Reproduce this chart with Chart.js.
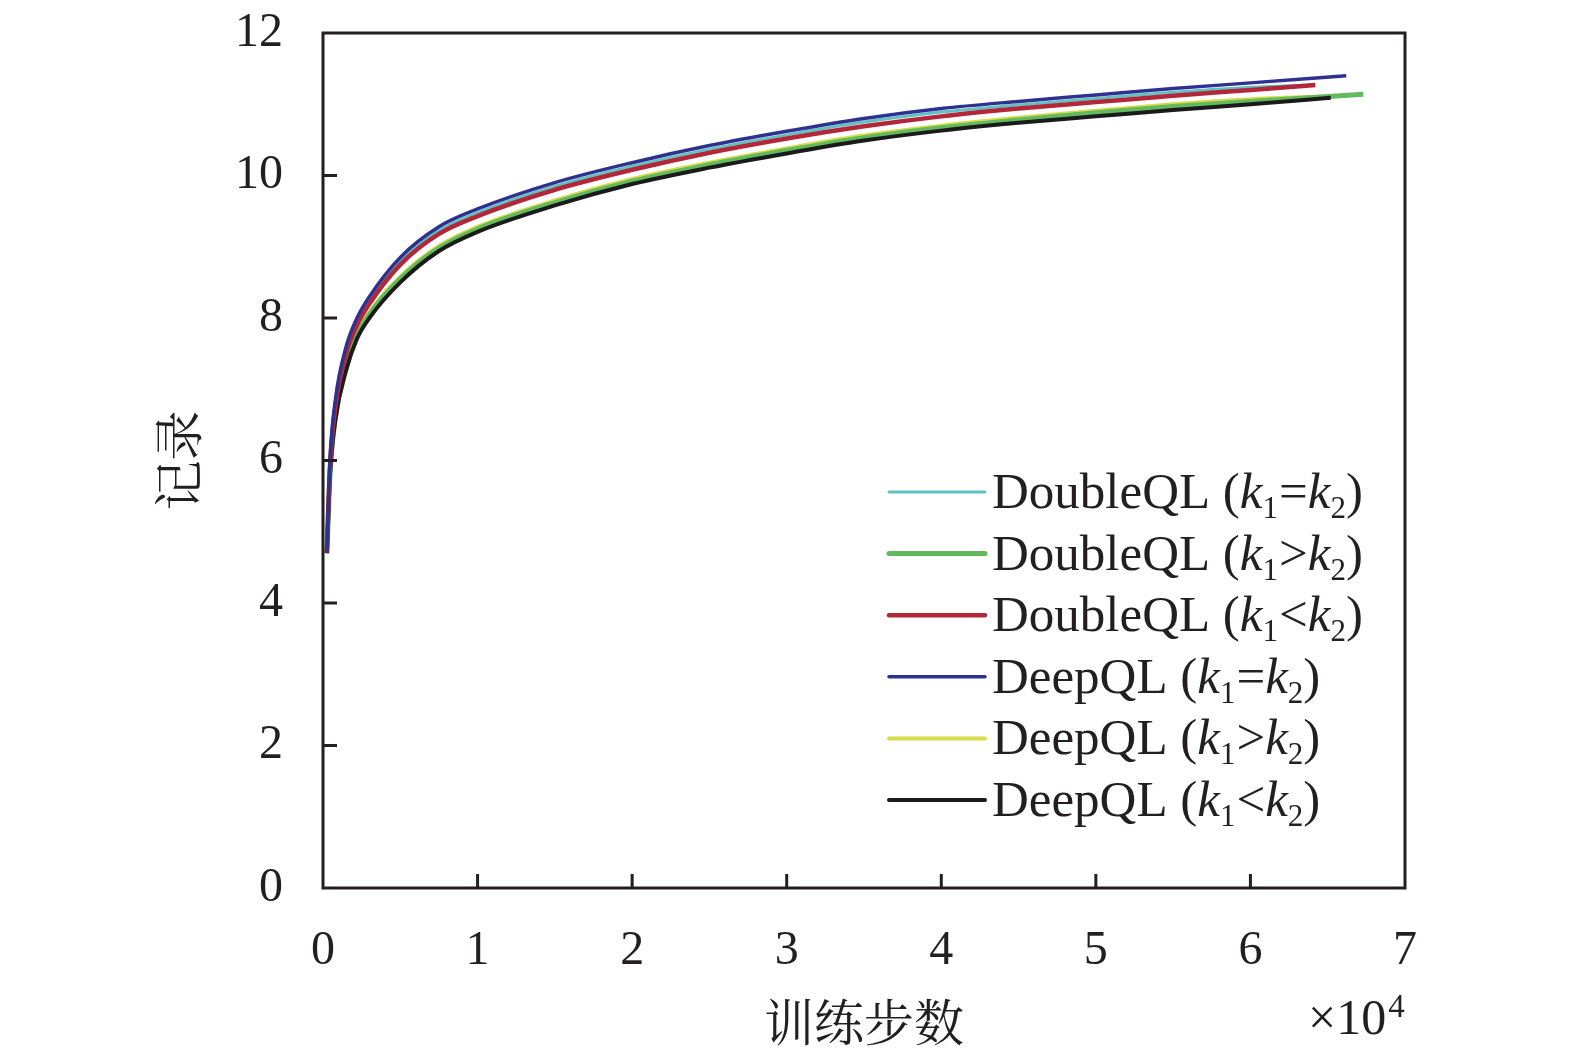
<!DOCTYPE html>
<html>
<head>
<meta charset="utf-8">
<title>训练步数 - 记录</title>
<script src="https://cdn.jsdelivr.net/npm/chart.js@4.4.1/dist/chart.umd.min.js"></script>
<style>
  html, body { margin: 0; padding: 0; background: #fff; }
  #wrap { width: 1575px; height: 1057px; }
</style>
</head>
<body>
<div id="wrap"><canvas id="chart" width="1575" height="1057"></canvas></div>
<script>
// training steps, in units of 10^4 (shared for all series), last point is per series
const steps = [0.025, 0.045, 0.08, 0.15, 0.22, 0.3, 0.5, 0.75, 1, 1.5, 2, 2.5, 3, 3.5, 4, 4.5, 5, 5.5, 6];
const endSteps = [6.38, 6.73, 6.42, 6.62, 6.48, 6.52];

const seriesNames = ['DoubleQL', 'DoubleQL', 'DoubleQL', 'DeepQL', 'DeepQL', 'DeepQL'];
const relations = ['=', '>', '<', '=', '>', '<'];

// record values (last value = end of the curve)
const doubleEq   = [4.7, 5.95, 6.8, 7.55, 7.95, 8.26, 8.8, 9.23, 9.48, 9.85, 10.13, 10.37, 10.57, 10.75, 10.89, 10.99, 11.08, 11.17, 11.24, 11.27];
const doubleGt   = [4.7, 5.8, 6.6, 7.3, 7.75, 8.05, 8.55, 8.98, 9.25, 9.62, 9.92, 10.15, 10.35, 10.53, 10.67, 10.78, 10.88, 10.97, 11.04, 11.14];
const doubleLt   = [4.7, 5.9, 6.75, 7.5, 7.9, 8.2, 8.75, 9.18, 9.43, 9.8, 10.08, 10.32, 10.52, 10.69, 10.83, 10.94, 11.03, 11.12, 11.20, 11.27];
const deepEq     = [4.7, 6.0, 6.85, 7.6, 8.0, 8.3, 8.85, 9.28, 9.53, 9.9, 10.18, 10.42, 10.62, 10.8, 10.94, 11.04, 11.13, 11.22, 11.30, 11.40];
const deepGt     = [4.7, 5.82, 6.63, 7.33, 7.78, 8.08, 8.58, 9.01, 9.28, 9.65, 9.95, 10.18, 10.38, 10.56, 10.7, 10.81, 10.91, 11.0, 11.07, 11.11];
const deepLt     = [4.7, 5.78, 6.57, 7.27, 7.71, 8.0, 8.5, 8.94, 9.21, 9.58, 9.88, 10.11, 10.31, 10.49, 10.63, 10.74, 10.83, 10.92, 11.0, 11.09];

const xTicks = [0, 1, 2, 3, 4, 5, 6, 7];
const yTicks = [0, 2, 4, 6, 8, 10, 12];

const allValues = [doubleEq, doubleGt, doubleLt, deepEq, deepGt, deepLt];
const colors = ['#5fc2c0', '#62b95e', '#b3273b', '#2e3190', '#d6dd4c', '#1b1b1b'];
const widths = [3, 5, 4.5, 3.5, 4, 4];
const drawOrder = [5, 4, 2, 1, 6, 3]; // lower = drawn on top

const INK = '#231f20';
const SERIF = "'Liberation Serif', 'Times New Roman', serif";
const CJK = "'Noto Serif CJK SC', 'Noto Sans CJK SC', sans-serif";

function toPoints(vals, i) {
  const xs = steps.concat([endSteps[i]]);
  return vals.map((v, j) => ({ x: xs[j], y: v }));
}

const datasets = allValues.map((vals, i) => ({
  label: seriesNames[i] + ' (k1' + relations[i] + 'k2)',
  data: toPoints(vals, i),
  borderColor: colors[i],
  borderWidth: widths[i],
  pointRadius: 0,
  showLine: true,
  fill: false,
  cubicInterpolationMode: 'monotone',
  order: drawOrder[i]
}));

// box, inward ticks, axis titles and the legend with italic/subscript text
const decorations = {
  id: 'decorations',
  afterDraw(chart) {
    const ctx = chart.ctx;
    const a = chart.chartArea;
    const xs = chart.scales.x, ys = chart.scales.y;
    ctx.save();
    ctx.strokeStyle = INK;
    ctx.lineWidth = 3;
    ctx.strokeRect(a.left, a.top, a.right - a.left, a.bottom - a.top);
    ctx.beginPath();
    xTicks.slice(1, -1).forEach(t => {
      const px = xs.getPixelForValue(t);
      ctx.moveTo(px, a.bottom); ctx.lineTo(px, a.bottom - 14);
    });
    yTicks.slice(1, -1).forEach(t => {
      const py = ys.getPixelForValue(t);
      ctx.moveTo(a.left, py); ctx.lineTo(a.left + 14, py);
    });
    ctx.stroke();

    ctx.fillStyle = INK;
    // y title
    ctx.save();
    ctx.translate(178, (a.top + a.bottom) / 2);
    ctx.rotate(-Math.PI / 2);
    ctx.font = '50px ' + CJK;
    ctx.textAlign = 'center';
    ctx.textBaseline = 'middle';
    ctx.fillText('记录', 0, 0);
    ctx.restore();
    // x title
    ctx.font = '50px ' + CJK;
    ctx.textAlign = 'center';
    ctx.textBaseline = 'middle';
    ctx.fillText('训练步数', (a.left + a.right) / 2, 1022);
    // x10^4
    ctx.textAlign = 'left';
    ctx.textBaseline = 'alphabetic';
    ctx.font = '50px ' + SERIF;
    ctx.fillText('\u00d710', 1308, 1034);
    const w = ctx.measureText('\u00d710').width;
    ctx.font = '33px ' + SERIF;
    ctx.fillText('4', 1308 + w + 2, 1017);

    // legend
    const x0 = 889, x1 = 985, tx = 992, rowY = 492, rowH = 61.6;
    chart.data.datasets.forEach((ds, i) => {
      const y = rowY + i * rowH;
      ctx.strokeStyle = ds.borderColor;
      ctx.lineWidth = ds.borderWidth;
      ctx.lineCap = 'round';
      ctx.beginPath();
      ctx.moveTo(x0, y); ctx.lineTo(x1, y);
      ctx.stroke();
      const base = y + 16;
      let x = tx;
      const put = (txt, font, dy) => {
        ctx.font = font;
        ctx.fillText(txt, x, base + (dy || 0));
        x += ctx.measureText(txt).width;
      };
      ctx.fillStyle = INK;
      put(seriesNames[i] + ' (', '51px ' + SERIF);
      put('k', 'italic 51px ' + SERIF);
      put('1', '31px ' + SERIF, 10);
      x += 1;
      put(relations[i], '51px ' + SERIF);
      put('k', 'italic 51px ' + SERIF);
      put('2', '31px ' + SERIF, 10);
      put(')', '51px ' + SERIF);
    });
    ctx.restore();
  }
};

new Chart(document.getElementById('chart'), {
  type: 'scatter',
  data: { datasets },
  plugins: [decorations],
  options: {
    responsive: false,
    animation: false,
    devicePixelRatio: 1,
    layout: { padding: { left: 2, top: 33, right: 170, bottom: 0 } },
    plugins: { legend: { display: false }, tooltip: { enabled: false } },
    scales: {
      x: {
        type: 'linear',
        min: 0, max: 7,
        afterBuildTicks: s => { s.ticks = xTicks.map(v => ({ value: v })); },
        afterFit: s => { s.height = 169; s.paddingLeft = 0; s.paddingRight = 0; },
        grid: { display: false, drawTicks: false },
        border: { display: false },
        ticks: { color: INK, font: { family: SERIF, size: 48 }, padding: 35, maxRotation: 0 }
      },
      y: {
        type: 'linear',
        min: 0, max: 12,
        afterBuildTicks: s => { s.ticks = yTicks.map(v => ({ value: v })); },
        afterFit: s => { s.width = 321; s.paddingTop = 0; s.paddingBottom = 0; },
        grid: { display: false, drawTicks: false },
        border: { display: false },
        ticks: { color: INK, font: { family: SERIF, size: 48 }, padding: 40 }
      }
    }
  }
});
</script>
</body>
</html>
